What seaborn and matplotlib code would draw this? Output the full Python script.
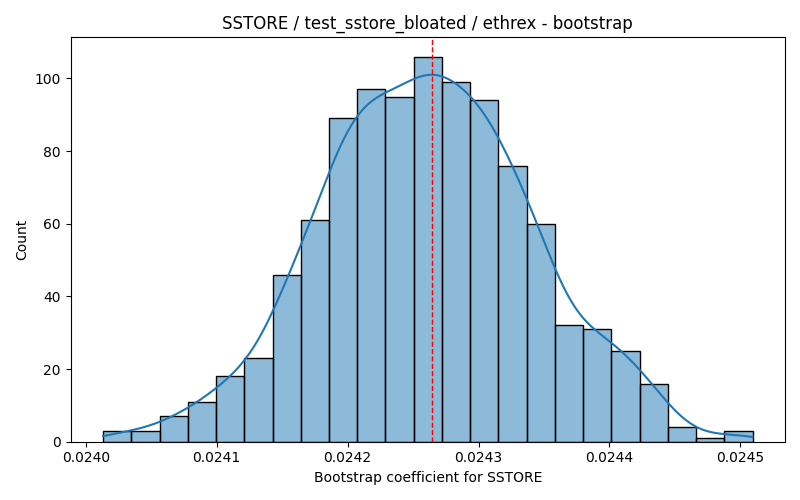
import numpy as np
import pandas as pd
import matplotlib
matplotlib.use('Agg')
import matplotlib.pyplot as plt
import seaborn as sns

# counts per bin (1000 bootstrap samples)
counts = [3, 3, 7, 11, 18, 23, 46, 61, 89, 97, 95, 106, 99, 94, 76, 60, 32, 31, 25, 16, 4, 1, 3]
bin_lo = 0.0240132
bin_hi = 0.0245093
point_estimate = 0.0242644

edges = np.linspace(bin_lo, bin_hi, len(counts) + 1)
centers = (edges[:-1] + edges[1:]) / 2
samples = np.repeat(centers, counts)
df = pd.DataFrame({'coef': samples})

# kde should span the full bin range like the raw data did
bw_adjust = 0.93
bw = samples.std(ddof=1) * len(samples) ** (-0.2) * bw_adjust
cut = (edges[1] - edges[0]) / 2 / bw

fig, ax = plt.subplots(figsize=(8, 5), dpi=100)
sns.histplot(data=df, x='coef', bins=edges, kde=True,
             kde_kws={'cut': cut, 'clip': (bin_lo, bin_hi), 'bw_adjust': bw_adjust}, ax=ax)
ax.axvline(point_estimate, color='red', linestyle='--', linewidth=1)
ax.set_title('SSTORE / test_sstore_bloated / ethrex - bootstrap')
ax.set_xlabel('Bootstrap coefficient for SSTORE')
ax.set_ylabel('Count')
plt.tight_layout()
plt.savefig('out.png')
plt.close()
